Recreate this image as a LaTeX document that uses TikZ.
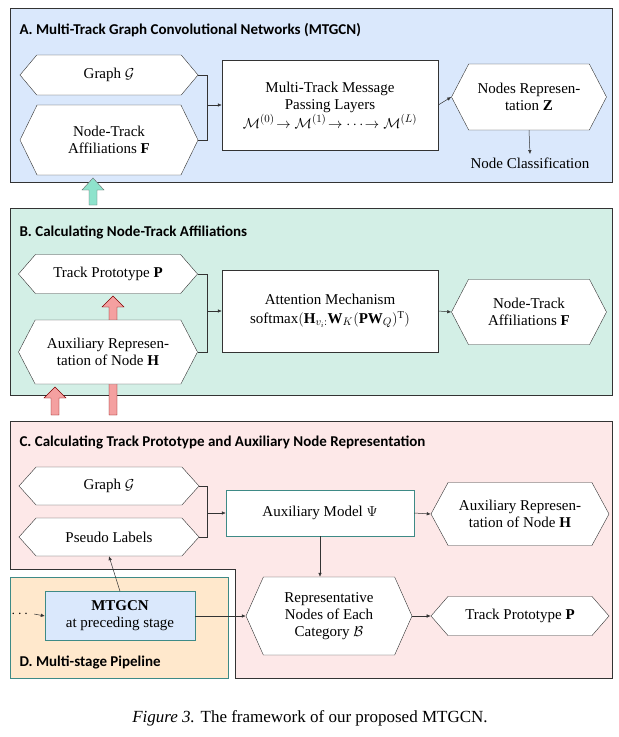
\documentclass[tikz,border=0pt]{standalone}
\usepackage{fontspec}
\usepackage{amsmath}
\setmainfont{Liberation Serif}
\newfontfamily\ttlfont{Carlito}
\usetikzlibrary{shapes.symbols,arrows.meta}
\definecolor{bA}{HTML}{DAE8FC}
\definecolor{bB}{HTML}{D3EFE6}
\definecolor{bC}{HTML}{FDE8E8}
\definecolor{bD}{HTML}{FFE8CC}
\definecolor{teal}{HTML}{3E8A86}
\definecolor{grA}{HTML}{8EE3CC}
\definecolor{rdA}{HTML}{F4A0A0}
\begin{document}
\begin{tikzpicture}[x=1pt,y=-1pt,
 every node/.style={font=\rmfamily\fontsize{15}{17}\selectfont},
 hex/.style={draw=black!80,fill=white,signal,signal to=west and east,signal pointer angle=#1,align=center,inner sep=0pt,font=\rmfamily\fontsize{15}{17}\selectfont},
 hex/.default=100,
 box/.style={draw=black!80,fill=white,align=center,font=\rmfamily\fontsize{15}{17}\selectfont},
 ttl/.style={font=\ttlfont\bfseries\fontsize{15}{17}\selectfont,anchor=west},
 con/.style={draw=black!80,line width=0.5pt,-{Latex[length=4pt,width=3.5pt]}},
 ln/.style={draw=black!80,line width=0.5pt}]
\useasboundingbox (0,0) rectangle (619,737);
\fill[white] (0,0) rectangle (619,737);
% panels
\draw[black!80,fill=bA] (10,8) rectangle (612,182);
\draw[black!80,fill=bB] (10,208) rectangle (612,395);
\draw[black!80,fill=bC] (10,421) -- (612,421) -- (612,678) -- (235,678) -- (235,569) -- (10,569) -- cycle;
\draw[teal,fill=bD] (10,577) rectangle (228,678);
\node[ttl] (tA) at (16,30) {A. Multi-Track Graph Convolutional Networks (MTGCN)};
\node[ttl] (tB) at (16,232) {B. Calculating Node-Track Affiliations};
\node[ttl] (tC) at (16,442) {C. Calculating Track Prototype and Auxiliary Node Representation};
\node[ttl] (tD) at (16,662) {D. Multi-stage Pipeline};
% fat red arrows (behind)
\draw[black!50!red,fill=rdA] (51,415) -- (51,398) -- (44,398) -- (55,387) -- (66,398) -- (59,398) -- (59,415) -- cycle;
\draw[black!50!red,fill=rdA] (109,415) -- (109,307) -- (102,307) -- (113,296) -- (124,307) -- (117,307) -- (117,415) -- cycle;
% A
\node[hex=100,minimum width=178,minimum height=40] (ag) at (109,75) {Graph $\mathcal{G}$};
\node[hex=128,minimum width=178,minimum height=70] (af) at (109,140) {Node-Track\\Affiliations $\mathbf{F}$};
\node[box,minimum width=216,minimum height=90] (am) at (330,105) {Multi-Track Message\\Passing Layers\\[2pt]
 $\mathcal{M}^{(0)}\!\rightarrow\mathcal{M}^{(1)}\!\rightarrow\cdots\!\rightarrow\mathcal{M}^{(L)}$};
\node[hex=125,minimum width=155,minimum height=66] (az) at (529,97) {Nodes Represen-\\tation $\mathbf{Z}$};
\node (anc) at (530,163) {Node Classification};
\coordinate (ja) at (207,105);
\draw[ln] (ag.east) -| (ja);
\draw[ln] (af.east) -| (ja);
\draw[con] (ja) -- (am.west);
\draw[con] (am.east) -- (az.west);
\draw[con] (az.south) -- (anc.north);
% B
\node[hex=98,minimum width=179,minimum height=39] (bp) at (108,274) {Track Prototype $\mathbf{P}$};
\node[hex=125,minimum width=179,minimum height=64] (bh) at (108,352) {Auxiliary Represen-\\tation of Node $\mathbf{H}$};
\node[box,minimum width=216,minimum height=82] (bm) at (330,311) {Attention Mechanism\\[2pt]
 $\mathrm{softmax}(\mathbf{H}_{v_i:}\mathbf{W}_K(\mathbf{P}\mathbf{W}_Q)^{\mathrm{T}})$};
\node[hex=125,minimum width=155,minimum height=65] (bf) at (529,312) {Node-Track\\Affiliations $\mathbf{F}$};
\coordinate (jb) at (207,311);
\draw[ln] (bp.east) -| (jb);
\draw[ln] (bh.east) -| (jb);
\draw[con] (jb) -- (bm.west);
\draw[con] (bm.east) -- (bf.west);
% C
\node[hex=96,minimum width=180,minimum height=38] (cg) at (109,486) {Graph $\mathcal{G}$};
\node[hex=96,minimum width=180,minimum height=38] (cp) at (109,537) {Pseudo Labels};
\node[draw=teal,fill=white,minimum width=188,minimum height=46,font=\rmfamily\fontsize{15}{17}\selectfont] (cm) at (320,513) {Auxiliary Model $\Psi$};
\node[hex=123,minimum width=178,minimum height=63] (ch) at (520,514) {Auxiliary Represen-\\tation of Node $\mathbf{H}$};
\node[hex=132,minimum width=166,minimum height=78] (cr) at (329,616) {Representative\\Nodes of Each\\Category $\mathcal{B}$};
\node[hex=98,minimum width=178,minimum height=39] (ct) at (520,616) {Track Prototype $\mathbf{P}$};
\coordinate (jc) at (207,513);
\draw[ln] (cg.east) -| (jc);
\draw[ln] (cp.east) -| (jc);
\draw[con] (jc) -- (cm.west);
\draw[con] (cm.east) -- (ch.west);
\draw[con] (cm.south) -- (cm.south |- cr.north);
\draw[con] (cr.east) -- (ct.west);
% D
\node[draw=teal,fill=bA,minimum width=150,minimum height=49,align=center,inner sep=1pt,font=\rmfamily\fontsize{15}{17}\selectfont] (dm) at (120,616) {\textbf{MTGCN}\\at preceding stage};
\node (dots) at (21,614) {$\cdots$};
\draw[con] (dots.east) -- (dm.west);
\draw[con] (dm.north) -- (cp.south);
\draw[con] (dm.east) -- (cr.west);
% green fat arrow
\draw[black!60,fill=grA] (89,205) -- (89,190) -- (82,190) -- (93,178) -- (104,190) -- (97,190) -- (97,205) -- cycle;
% caption
\node[font=\rmfamily\fontsize{17}{20}\selectfont] (cap) at (310,718) {\textit{Figure 3.} The framework of our proposed MTGCN.};
\end{tikzpicture}
\end{document}
